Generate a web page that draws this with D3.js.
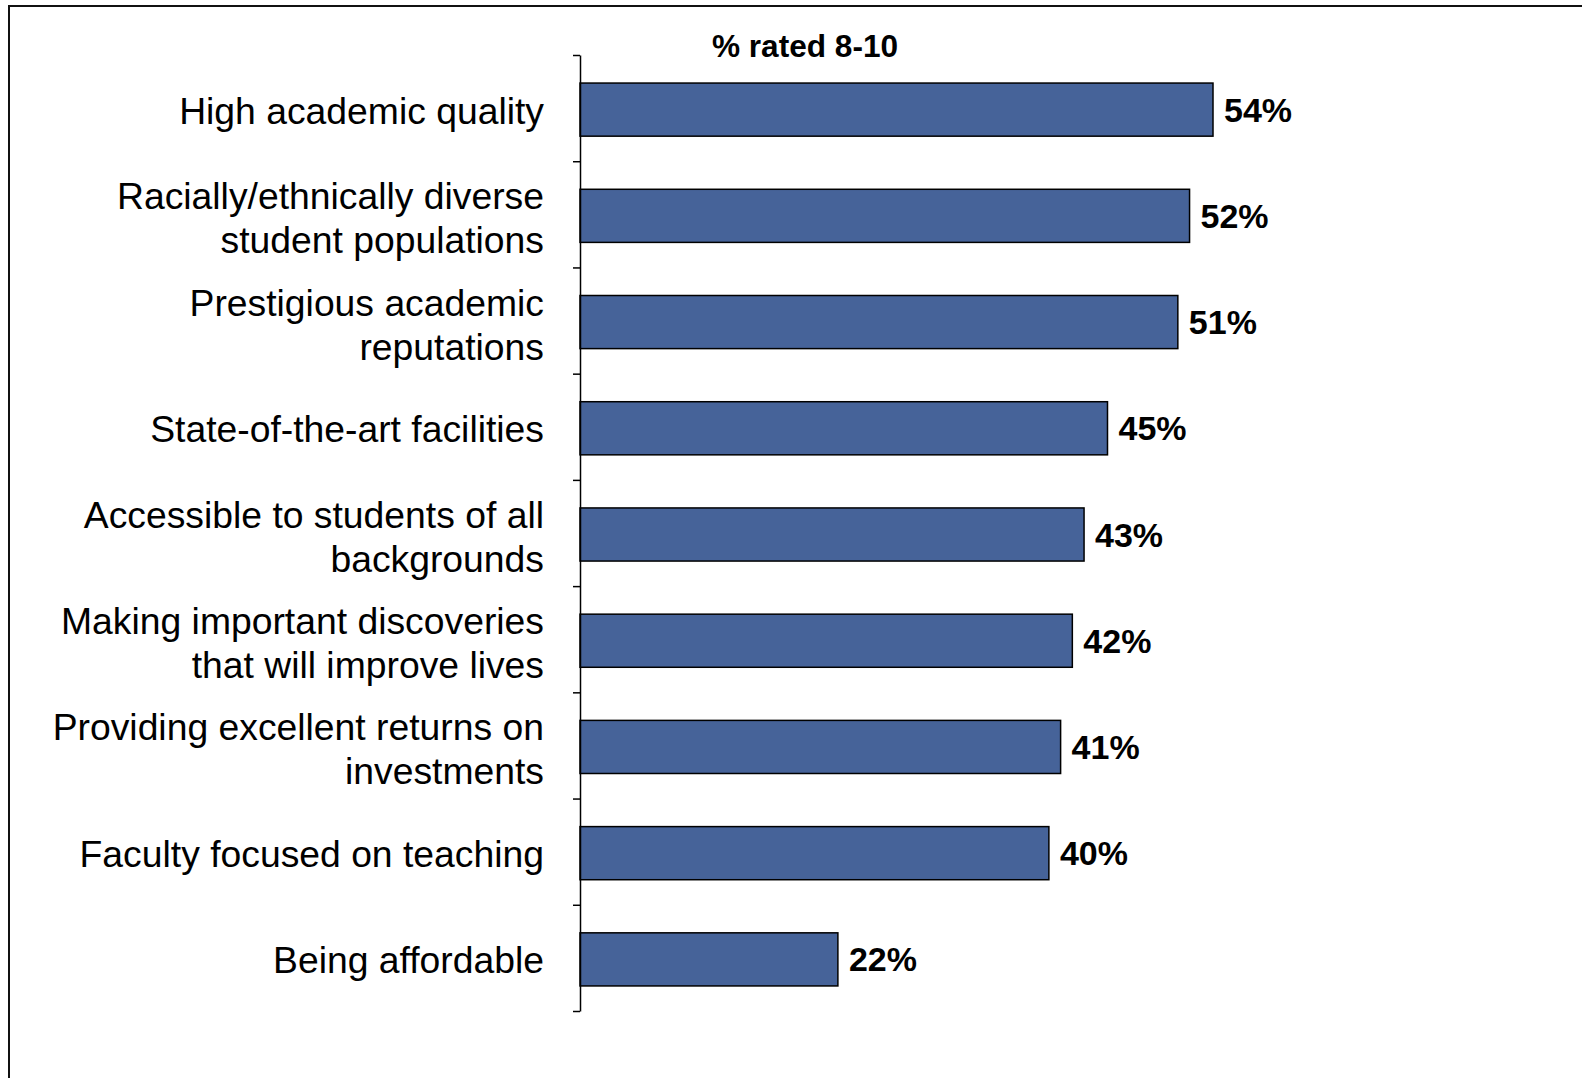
<!DOCTYPE html>
<html>
<head>
<meta charset="utf-8">
<script src="https://cdn.jsdelivr.net/npm/d3@7"></script>
<style>
  body { margin: 0; background: #fff; }
  svg { display: block; font-family: "Liberation Sans", Arial, sans-serif; }
</style>
</head>
<body>
<svg width="1582" height="1078"></svg>
<script>
// chart data
var categories = [
  "High academic quality",
  "Racially/ethnically diverse|student populations",
  "Prestigious academic|reputations",
  "State-of-the-art facilities",
  "Accessible to students of all|backgrounds",
  "Making important discoveries|that will improve lives",
  "Providing excellent returns on|investments",
  "Faculty focused on teaching",
  "Being affordable"
];
var values = [54, 52, 51, 45, 43, 42, 41, 40, 22];
var title = "% rated 8-10";

var svg = d3.select("svg");

// outer frame (runs off the right and bottom edges)
svg.append("rect")
    .attr("x", 9).attr("y", 6)
    .attr("width", 1600).attr("height", 1100)
    .attr("fill", "none")
    .attr("stroke", "#111")
    .attr("stroke-width", 2);

var axisX = 580, axisTop = 55, axisBottom = 1011;

// set the ranges
var x = d3.scaleLinear().domain([0, 54]).range([axisX, 1213]);
var y = d3.scaleBand().domain(categories).range([axisTop + 1.5, axisBottom + 1.5])
    .paddingInner(0.5).paddingOuter(0.25);
// category boundaries for the tick marks
var yEdge = d3.scaleLinear().domain([0, categories.length]).range([axisTop, axisBottom]);

// bars
svg.selectAll(".bar")
    .data(categories)
  .enter().append("rect")
    .attr("class", "bar")
    .attr("x", x(0))
    .attr("y", function(d) { return y(d); })
    .attr("width", function(d, i) { return x(values[i]) - x(0); })
    .attr("height", y.bandwidth())
    .attr("fill", "#466399")
    .attr("stroke", "#000")
    .attr("stroke-width", 1.5);

// y axis with ticks between categories
var axis = svg.append("g")
    .attr("transform", "translate(" + axisX + ",0)")
    .call(d3.axisLeft(yEdge)
      .tickValues(d3.range(categories.length + 1))
      .tickFormat("")
      .tickSizeInner(7)
      .tickSizeOuter(0));
axis.select(".domain").attr("stroke", "#000").attr("stroke-width", 1.5);
axis.selectAll(".tick line").attr("stroke", "#000").attr("stroke-width", 1.5);

// category labels
var lineH = 44;
svg.selectAll(".cat")
    .data(categories)
  .enter().append("text")
    .attr("class", "cat")
    .attr("text-anchor", "end")
    .style("font-size", "37.3px")
    .attr("fill", "#000")
    .each(function(d) {
      var lines = d.split("|"),
          cy = y(d) + y.bandwidth() / 2,
          t = d3.select(this);
      lines.forEach(function(s, i) {
        t.append("tspan")
          .attr("x", 544)
          .attr("y", cy + 14 + (i - (lines.length - 1) / 2) * lineH + (lines.length > 1 ? 1.5 : 0))
          .text(s);
      });
    });

// value labels
svg.selectAll(".val")
    .data(categories)
  .enter().append("text")
    .attr("class", "val")
    .attr("x", function(d, i) { return x(values[i]) + 11; })
    .attr("y", function(d) { return y(d) + y.bandwidth() / 2 + 12; })
    .style("font-size", "34px")
    .style("font-weight", "bold")
    .attr("fill", "#000")
    .text(function(d, i) { return values[i] + "%"; });

// header above the bars
svg.append("text")
    .attr("x", 805)
    .attr("y", 57)
    .attr("text-anchor", "middle")
    .style("font-size", "31.6px")
    .style("font-weight", "bold")
    .attr("fill", "#000")
    .text(title);
</script>
</body>
</html>
